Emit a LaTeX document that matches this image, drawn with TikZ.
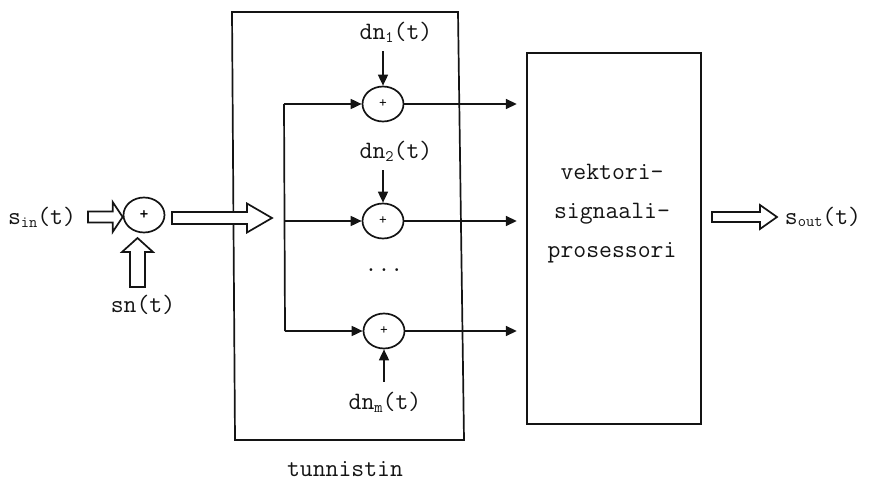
\documentclass[tikz,border=0pt]{standalone}
\usepackage{fontspec}
\usepackage{tikz}
\usetikzlibrary{arrows.meta,calc,shapes.geometric}
\newcommand{\subtxt}[1]{\raisebox{-0.25ex}{\fontsize{16}{16}\selectfont #1}}
\definecolor{inkblack}{RGB}{20,20,20}
\tikzset{
  base/.style={font=\ttfamily\fontsize{25}{39}\selectfont, align=center, inner sep=0pt, text=inkblack},
  adder/.style={ellipse, draw=inkblack, line width=1.7pt, minimum width=41pt, minimum height=35pt, inner sep=0pt, font=\ttfamily\fontsize{15}{15}\selectfont},
  proc/.style={rectangle, draw=inkblack, line width=2.4pt, minimum width=174pt, minimum height=371pt, inner sep=0pt},
  arr/.style={-{Triangle[length=11pt,width=10pt]}, line width=1.7pt, draw=inkblack},
  fatarrow/.style={draw=inkblack, fill=white, line width=1.7pt, line join=miter},
  wire/.style={line width=1.7pt, draw=inkblack},
}
% hollow block arrow: start, end, shaft half width, head half width, head length
\newcommand{\hollowarrow}[5]{%
  \coordinate (ha-b) at ($(#2)!#5!(#1)$);
  \draw[fatarrow] ($(#1)!#3!90:(#2)$) -- ($(ha-b)!#3!90:(#2)$) -- ($(ha-b)!#4!90:(#2)$) -- (#2)
    -- ($(ha-b)!#4!-90:(#2)$) -- ($(ha-b)!#3!-90:(#2)$) -- ($(#1)!#3!-90:(#2)$) -- cycle;}

\begin{document}
\begin{tikzpicture}[x=1pt,y=-1pt]
  \useasboundingbox (0,0) rectangle (870,481);
  % input side
  \node[base] (sin) at (42,217) {s\subtxt{in}(t)};
  \node[adder,font=\bfseries\ttfamily\fontsize{17}{17}\selectfont] (s0) at (144,215) {+};
  \node[base] (sn) at (143,305) {sn(t)};
  \coordinate (sinA) at (88,217);
  \coordinate (sinB) at (s0.west |- sinA);
  \hollowarrow{sinA}{sinB}{5.5pt}{15pt}{10pt}
  \coordinate (snA) at (137.5,287);
  \coordinate (snB) at (137.5,238);
  \hollowarrow{snA}{snB}{7.5pt}{15.5pt}{14pt}
  % detector box
  \draw[wire] (232,12) -- (458,12) -- (464,440) -- (235,440) -- cycle;
  \node[base] (det) at (345,469) {tunnistin};
  \coordinate (bigA) at (172,218);
  \coordinate (bigB) at (272,218);
  \hollowarrow{bigA}{bigB}{6pt}{14.5pt}{25pt}
  % adders
  \node[adder] (a1) at (383,104) {+};
  \node[adder] (a2) at (383,221) {+};
  \node[adder] (am) at (384,331) {+};
  \node[base] (d1) at (396,32) {dn\subtxt{1}(t)};
  \node[base] (d2) at (396,151) {dn\subtxt{2}(t)};
  \node[base] (dm) at (385,402) {dn\subtxt{m}(t)};
  \node[base] (dots) at (384,270) {...};
  \draw[arr] ([yshift=-9pt]d1.south -| a1) -- (a1.north);
  \draw[arr] ([yshift=-9pt]d2.south -| a2) -- (a2.north);
  \draw[arr] ([yshift=10pt]dm.north -| am) -- (am.south);
  % branching
  \coordinate (br1) at (284,104);
  \coordinate (br2) at (284,221);
  \coordinate (brm) at (285,331);
  \draw[wire] (br1) -- (brm);
  \draw[arr] (br1) -- (a1.west);
  \draw[arr] (br2) -- (a2.west);
  \draw[arr] (brm) -- (am.west);
  % vector signal processor
  \node[proc] (vsp) at (614,238.5) {};
  \node[base] (vsptext) at (612,214) {vektori-\\signaali-\\prosessori};
  \foreach \a in {a1,a2,am}
    \draw[arr,shorten >=9pt] (\a.east) -- (\a.east -| vsp.west);
  \coordinate (outA) at (712,217);
  \coordinate (outB) at (777,217);
  \hollowarrow{outA}{outB}{5pt}{12pt}{17pt}
  \node[base] (sout) at (823,217) {s\subtxt{out}(t)};
\end{tikzpicture}
\end{document}
